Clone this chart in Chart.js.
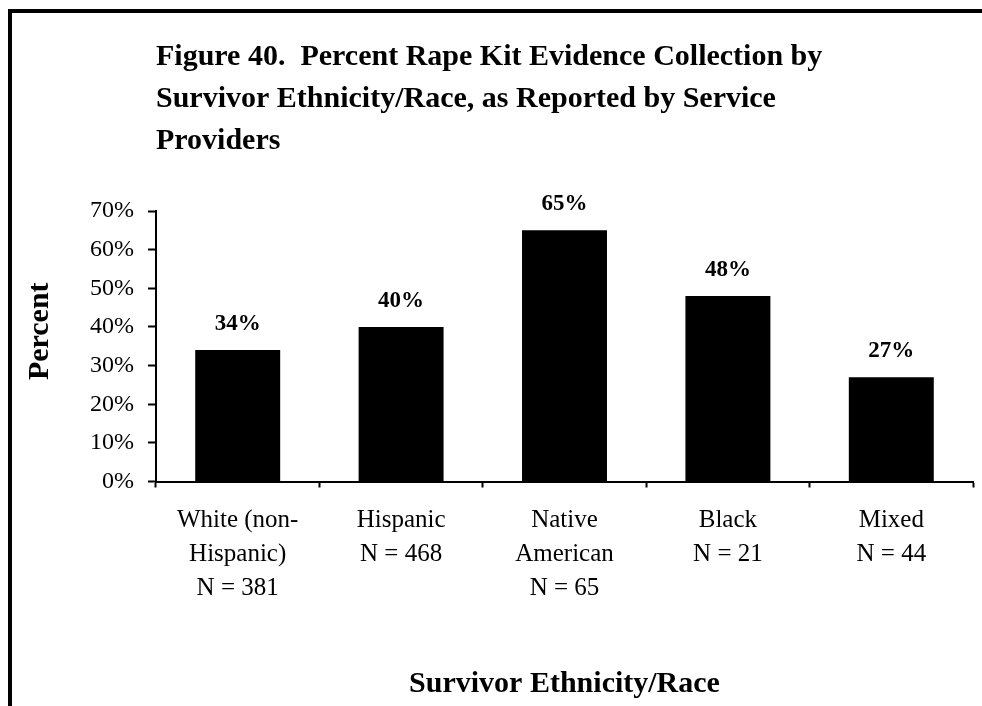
<!DOCTYPE html>
<html>
<head>
<meta charset="utf-8">
<script src="https://cdn.jsdelivr.net/npm/chart.js@4"></script>
<style>
  html, body { margin: 0; padding: 0; background: #fff; overflow: hidden; }
  #frame {
    position: absolute; left: 8px; top: 9px; width: 1000px; height: 800px;
    border-left: 4px solid #000; border-top: 4px solid #000;
  }
  #chart1 { position: absolute; left: 0; top: 0; }
</style>
</head>
<body>
<div id="frame"></div>
<canvas id="chart1" width="982" height="706"></canvas>
<script>
const categories = [
  ["White (non-", "Hispanic)", "N = 381"],
  ["Hispanic", "N = 468"],
  ["Native", "American", "N = 65"],
  ["Black", "N = 21"],
  ["Mixed", "N = 44"],
];
const percentValues = [34, 40, 65, 48, 27];
const titleLines = [
  "Figure 40.  Percent Rape Kit Evidence Collection by",
  "Survivor Ethnicity/Race, as Reported by Service",
  "Providers",
];

const serif = "'Liberation Serif', 'Times New Roman', serif";

// bold value labels above each bar
const barLabels = {
  id: "barLabels",
  afterDatasetsDraw(chart) {
    const ctx = chart.ctx;
    const meta = chart.getDatasetMeta(0);
    ctx.save();
    ctx.font = "bold 23px " + serif;
    ctx.fillStyle = "#000";
    ctx.textAlign = "center";
    ctx.textBaseline = "middle";
    meta.data.forEach((bar, i) => {
      ctx.fillText(percentValues[i] + "%", bar.x, bar.y - 26);
    });
    ctx.restore();
  },
};

function drawChart1() {
  new Chart("chart1", {
    type: "bar",
    data: {
      labels: categories,
      datasets: [
        {
          label: "Percent",
          data: percentValues,
          backgroundColor: "#000",
          borderWidth: 0,
          barPercentage: 0.52,
          categoryPercentage: 1,
        },
      ],
    },
    options: {
      responsive: false,
      animation: false,
      layout: { padding: { top: 20, right: 9, left: 0, bottom: 0 } },
      plugins: {
        legend: { display: false },
        tooltip: { enabled: false },
        title: {
          display: true,
          text: titleLines,
          align: "start",
          fullSize: false,
          color: "#000",
          font: { family: serif, size: 30, weight: "bold", lineHeight: 1.4 },
          padding: { top: 16, bottom: 49 },
        },
      },
      scales: {
        x: {
          grid: {
            offset: true,
            drawOnChartArea: false,
            tickLength: 6,
            tickColor: "#000",
            tickWidth: 2,
          },
          border: { color: "#000", width: 2 },
          ticks: {
            color: "#000",
            padding: 16,
            maxRotation: 0,
            autoSkip: false,
            font: { family: serif, size: 25, lineHeight: 1.36 },
          },
          title: {
            display: true,
            text: "Survivor Ethnicity/Race",
            color: "#000",
            font: { family: serif, size: 30, weight: "bold", lineHeight: 1.2 },
            padding: { top: 0, bottom: 4 },
          },
          afterFit(scale) {
            scale.height = 224.5;
          },
        },
        y: {
          min: 0,
          max: 70,
          grid: {
            drawOnChartArea: false,
            tickLength: 8,
            tickColor: "#000",
            tickWidth: 2,
          },
          border: { color: "#000", width: 2 },
          ticks: {
            stepSize: 10,
            color: "#000",
            padding: 14,
            font: { family: serif, size: 24 },
            callback: (v) => v + "%",
          },
          title: {
            display: true,
            // leading spaces lift the rotated word a little, as in the original
            text: "    Percent",
            color: "#000",
            font: { family: serif, size: 30, weight: "bold", lineHeight: 1.2 },
            padding: { top: 22, bottom: 0 },
          },
          afterFit(scale) {
            scale.width = 156;
          },
        },
      },
    },
    plugins: [barLabels],
  });
}

drawChart1();
</script>
</body>
</html>
